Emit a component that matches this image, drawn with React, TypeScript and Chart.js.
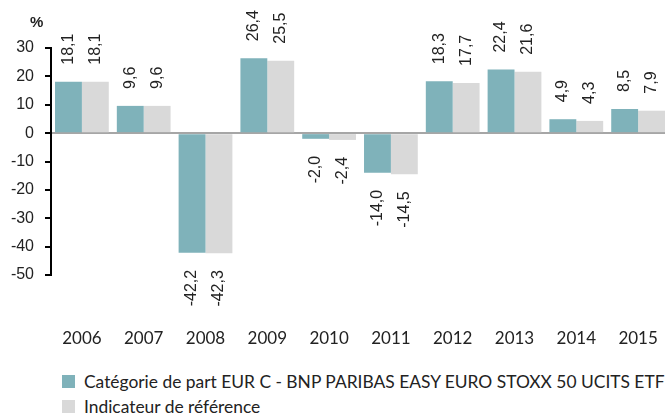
import React, { useEffect, useRef } from "react";
import { Chart, registerables } from "chart.js";

Chart.register(...registerables);

const years = ["2006", "2007", "2008", "2009", "2010", "2011", "2012", "2013", "2014", "2015"];
const fundValues = [18.1, 9.6, -42.2, 26.4, -2.0, -14.0, 18.3, 22.4, 4.9, 8.5];
const indexValues = [18.1, 9.6, -42.3, 25.5, -2.4, -14.5, 17.7, 21.6, 4.3, 7.9];
const fundLabel = "Catégorie de part EUR C - BNP PARIBAS EASY EURO STOXX 50 UCITS ETF";
const indexLabel = "Indicateur de référence";
const yMin = -50;
const yMax = 30;
const yStep = 10;

const TEAL = "#7fb2ba";
const GRAY = "#d9d9d9";
const TEXT = "#222222";
const ARIAL = "'Liberation Sans', Arial, sans-serif";
const HUMAN = "Lato, 'Open Sans', sans-serif";

const fmt = (v: number) => v.toFixed(1).replace(".", ",");

const valueLabels = {
  id: "valueLabels",
  afterDatasetsDraw(chart: any) {
    const ctx = chart.ctx;
    ctx.save();
    ctx.font = `16px ${ARIAL}`;
    ctx.fillStyle = TEXT;
    ctx.textBaseline = "middle";
    chart.data.datasets.forEach((ds: any, di: number) => {
      const meta = chart.getDatasetMeta(di);
      meta.data.forEach((bar: any, i: number) => {
        const v = ds.data[i];
        const gap = 17;
        ctx.save();
        if (v >= 0) {
          ctx.translate(bar.x, bar.y - gap);
          ctx.rotate(-Math.PI / 2);
          ctx.textAlign = "left";
        } else {
          ctx.translate(bar.x, bar.y + gap);
          ctx.rotate(-Math.PI / 2);
          ctx.textAlign = "right";
        }
        ctx.fillText(fmt(v), 0, 0);
        ctx.restore();
      });
    });
    ctx.restore();
  },
};

export default function App() {
  const ref = useRef<HTMLCanvasElement>(null);
  useEffect(() => {
    if (!ref.current) return;
    const chart = new Chart(ref.current, {
      type: "bar",
      data: {
        labels: years,
        datasets: [
          { label: fundLabel, data: fundValues, backgroundColor: TEAL, borderWidth: 0 },
          { label: indexLabel, data: indexValues, backgroundColor: GRAY, borderWidth: 0 },
        ],
      },
      options: {
        responsive: false,
        animation: false,
        layout: { padding: { top: 48, left: 0, right: 0, bottom: 0 } },
        plugins: { legend: { display: false }, tooltip: { enabled: false } },
        datasets: { bar: { categoryPercentage: 0.87, barPercentage: 1 } },
        scales: {
          x: {
            grid: { display: true, drawOnChartArea: false, drawTicks: true, tickLength: 49, tickColor: "rgba(0,0,0,0)", color: "rgba(0,0,0,0)" },
            border: { display: false },
            ticks: { padding: 4, color: TEXT, font: { family: HUMAN, size: 17 } },
            afterFit: (s: any) => { s.height = 85; },
          },
          y: {
            min: yMin,
            max: yMax,
            z: 1,
            ticks: { stepSize: yStep, padding: 11, color: TEXT, font: { family: ARIAL, size: 16 } },
            grid: {
              drawOnChartArea: true,
              drawTicks: true,
              tickLength: 6,
              tickColor: "#000",
              tickWidth: 2,
              color: (c: any) => (c.tick && c.tick.value === 0 ? "#a6a6a6" : "rgba(0,0,0,0)"),
              lineWidth: 2,
            },
            border: { display: true, color: "#000", width: 2 },
            afterFit: (s: any) => { s.width = 51; },
          },
        },
      },
      plugins: [valueLabels],
    });
    return () => chart.destroy();
  }, []);

  const legendItem = (color: string, text: string, top: number) => (
    <div style={{ position: "absolute", left: 62, top, height: 20, display: "flex", alignItems: "center" }}>
      <div style={{ width: 13, height: 13, background: color, marginRight: 9 }} />
      <span style={{ fontFamily: HUMAN, fontSize: 17.4, color: TEXT, whiteSpace: "nowrap" }}>{text}</span>
    </div>
  );

  return (
    <div style={{ position: "absolute", left: 0, top: 0, width: 665, height: 415, overflow: "hidden", background: "#fff" }}>
      <canvas ref={ref} width={669} height={360} style={{ position: "absolute", left: 0, top: 0 }} />
      <div style={{ position: "absolute", left: 30, top: 13, fontFamily: ARIAL, fontWeight: "bold", fontSize: 15, color: TEXT }}>%</div>
      {legendItem(TEAL, fundLabel, 371)}
      {legendItem(GRAY, indexLabel, 396)}
    </div>
  );
}
